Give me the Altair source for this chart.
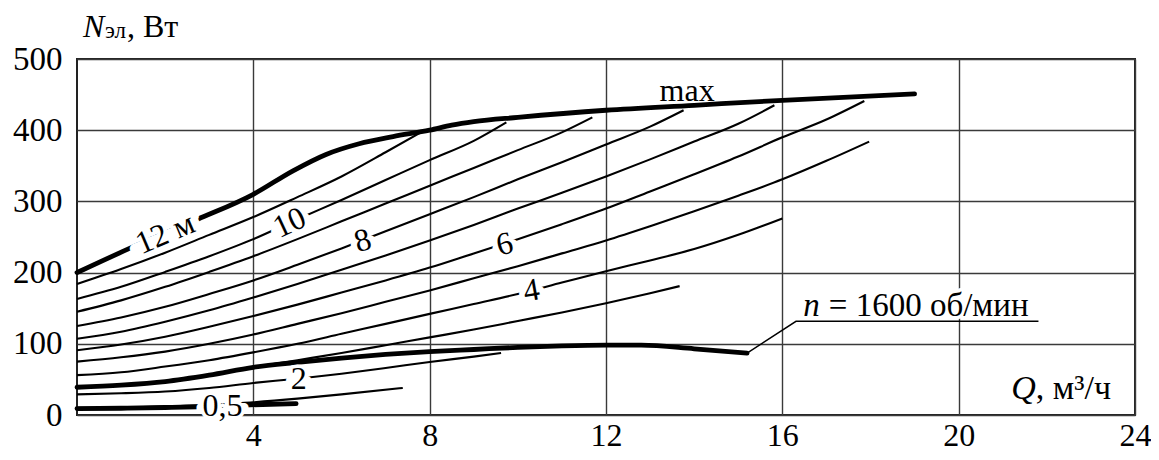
import altair as alt
import pandas as pd

FONT = "Times New Roman, Liberation Serif, Times, serif"

# ---------------- curves N(Q): Q in m3/h, N in W ----------------
# thick envelope: 12 m head curve continuing into the "max" line
q_max = [0, 1.23, 2.74, 4, 4.9, 5.65, 6.4, 7.17, 8, 8.5, 9, 10, 12, 14, 16, 19]
n_max = [200, 235, 275, 310, 343, 366, 381, 391, 400, 407, 412, 418, 428, 435, 442, 451]

# thick line n = 1600 rpm
q_n1600 = [0, 1, 2, 3, 4, 5, 6, 7, 8, 9, 10, 11, 12, 12.8, 14, 15.2]
n_n1600 = [39, 42, 47, 56, 67, 74, 80, 85, 89, 92, 95, 97, 98, 98, 93, 87]

# thick 0.5 m curve
q_h05 = [0, 1, 2, 2.74, 3.8, 4.97]
n_h05 = [9, 9.5, 10.5, 11.6, 14, 16]

# thin head curves
q_h11 = [0, 1, 2, 3, 4, 5, 6, 7, 7.8]
n_h11 = [184, 205, 228, 253, 278, 306, 335, 369, 397]

q_h10 = [0, 1, 2, 3, 4, 5, 6, 7, 8, 9, 9.74]
n_h10 = [163, 180, 201, 223, 247, 275, 302, 330, 358, 385, 411]

q_h9 = [0, 1, 2, 3, 4, 5, 6, 7, 8, 9, 10, 11, 11.69]
n_h9 = [145, 161, 180, 201, 223, 247, 272, 297, 322, 347, 372, 397, 418]

q_h8 = [0, 1, 2, 3, 4, 5, 6, 7, 8, 9, 10, 11, 12, 13, 13.76]
n_h8 = [125, 137, 152, 170, 189, 211, 234, 258, 282, 306, 331, 355, 380, 405, 428]

q_h7 = [0, 1, 2, 3, 4, 5, 6, 7, 8, 9, 10, 11, 12, 13, 14, 15, 15.82]
n_h7 = [107, 117, 131, 147, 165, 184, 204, 224, 245, 267, 290, 312, 335, 359, 384, 409, 435]

q_h6 = [0, 1, 2, 3, 4, 5, 6, 7, 8, 9, 10, 11, 12, 13, 14, 15, 16, 17, 17.86]
n_h6 = [91, 99, 110, 124, 139, 155, 172, 189, 207, 227, 247, 268, 290, 314, 338, 363, 390, 415, 441]

q_h5 = [0, 1, 2, 3, 4, 5, 6, 7, 8, 9, 10, 11, 12, 13, 14, 15, 16, 17, 17.97]
n_h5 = [75, 81, 89, 100, 113, 128, 143, 159, 175, 192, 209, 227, 245, 265, 286, 308, 331, 357, 384]

q_h4 = [0, 1, 2, 3, 4, 5, 6, 7, 8, 9, 10, 11, 12, 13, 14, 15, 16]
n_h4 = [56, 60, 68, 77, 88, 100, 114, 128, 142, 156, 170, 186, 202, 217, 233, 253, 276]

q_h3 = [0, 1, 2, 3, 4, 5, 6, 7, 8, 9, 10, 11, 12, 13, 13.67]
n_h3 = [39, 42, 47, 56, 67, 77, 87, 98, 109, 120, 132, 144, 157, 171, 181]

q_h2 = [0, 1, 2, 3, 4, 5, 6, 7, 8, 9, 9.62]
n_h2 = [29, 30.5, 33, 38, 45, 51, 58, 66, 74.5, 82, 87]

q_h1 = [0, 1, 2, 3, 3.8, 5, 6, 7.39]
n_h1 = [10, 10.5, 12, 14, 17, 23, 29, 38]

# leader line to the "n = 1600" caption
q_leader = [15.2, 16.31, 21.81]
n_leader = [87, 131.6, 131.6]

# labels on the curves
lab_text = ["12 м", "10", "8", "6", "4", "2", "0,5"]
lab_q = [2.0, 4.82, 6.48, 9.7, 10.31, 5.03, 3.3]
lab_n = [255, 270, 245, 240, 175, 50, 13]
lab_angle = [337, 335, 344, 346, 350, 0, 0]

x_ticks = [4, 8, 12, 16, 20, 24]
y_ticks = [0, 100, 200, 300, 400, 500]


def frame(name, qs, ns):
    return pd.DataFrame({"curve": name, "Q": qs, "N": ns})


def gap_strip(s):
    # same advance widths as the label (digits and en dash are 0.5 em, comma and
    # middle dot 0.25 em); white strip that opens the curve under the whole label
    out = []
    for c in s:
        if c.isdigit() or c == " ":
            out.append("\u2013")
        elif c == ",":
            out.append("\u00b7")
        else:
            out.append(c)
    return "".join(out)


thin_df = pd.concat([
    frame("11", q_h11, n_h11), frame("10", q_h10, n_h10), frame("9", q_h9, n_h9),
    frame("8", q_h8, n_h8), frame("7", q_h7, n_h7), frame("6", q_h6, n_h6),
    frame("5", q_h5, n_h5), frame("4", q_h4, n_h4), frame("3", q_h3, n_h3),
    frame("2", q_h2, n_h2), frame("1", q_h1, n_h1),
], ignore_index=True)

thick_df = pd.concat([
    frame("max", q_max, n_max), frame("n1600", q_n1600, n_n1600), frame("0.5", q_h05, n_h05),
], ignore_index=True)

leader_df = frame("leader", q_leader, n_leader)
labels_df = pd.DataFrame({"text": lab_text, "Q": lab_q, "N": lab_n, "angle": lab_angle})
labels_df["gap"] = labels_df["text"].map(gap_strip)

xscale = alt.Scale(domain=[0, 24], nice=False, zero=False)
yscale = alt.Scale(domain=[0, 500], nice=False, zero=False)

x_axis = alt.Axis(values=x_ticks, title="", grid=True, domain=False, ticks=False,
                  labelFont=FONT, labelFontSize=32, labelColor="black",
                  labelBaseline="alphabetic", labelPadding=30,
                  labelFlush=False, labelOverlap=False,
                  gridColor="#3a3a3a", gridWidth=1.4, gridOpacity=1)
y_axis = alt.Axis(values=y_ticks, title="", grid=True, domain=False, ticks=False,
                  labelFont=FONT, labelFontSize=33, labelColor="black",
                  labelPadding=15, labelFlush=False, labelOverlap=False,
                  gridColor="#3a3a3a", gridWidth=1.4, gridOpacity=1)

X = alt.X("Q:Q", scale=xscale, axis=x_axis)
Y = alt.Y("N:Q", scale=yscale, axis=y_axis)
Xs = alt.X("Q:Q", scale=xscale)
Ys = alt.Y("N:Q", scale=yscale)

thin = alt.Chart(thin_df).mark_line(color="black", strokeWidth=2.1, interpolate="monotone").encode(
    x=X, y=Y, detail="curve:N")
thick = alt.Chart(thick_df).mark_line(color="black", strokeWidth=4.8, interpolate="monotone",
                                      strokeCap="round").encode(x=Xs, y=Ys, detail="curve:N")
leader = alt.Chart(leader_df).mark_line(color="black", strokeWidth=1.4).encode(x=Xs, y=Ys)

gaps = alt.Chart(labels_df).mark_text(font=FONT, fontSize=32, color="white", stroke="white",
                                      strokeWidth=9, strokeJoin="round", baseline="middle",
                                      align="center").encode(
    x=Xs, y=Ys, text="gap:N", angle=alt.Angle("angle:Q", scale=None))
halo = alt.Chart(labels_df).mark_text(font=FONT, fontSize=32, color="white", stroke="white",
                                      strokeWidth=7, strokeJoin="round", baseline="middle",
                                      align="center").encode(
    x=Xs, y=Ys, text="text:N", angle=alt.Angle("angle:Q", scale=None))
labels = alt.Chart(labels_df).mark_text(font=FONT, fontSize=32, color="black", baseline="middle",
                                        align="center").encode(
    x=Xs, y=Ys, text="text:N", angle=alt.Angle("angle:Q", scale=None))

one = pd.DataFrame({"Q": [0.0], "N": [0.0]})

max_lbl = alt.Chart(one).mark_text(font=FONT, fontSize=32, color="black", baseline="alphabetic",
                                   align="center").encode(
    x=alt.datum(13.84), y=alt.datum(441.6), text=alt.value("max"))

n_sym_halo = alt.Chart(one).mark_text(font=FONT, fontSize=33, fontStyle="italic", color="white",
                                      stroke="white", strokeWidth=7, strokeJoin="round",
                                      baseline="alphabetic", align="right").encode(
    x=alt.datum(16.85), y=alt.datum(138.4), text=alt.value("n"))
n_sym = alt.Chart(one).mark_text(font=FONT, fontSize=33, fontStyle="italic", color="black",
                                 baseline="alphabetic", align="right").encode(
    x=alt.datum(16.85), y=alt.datum(138.4), text=alt.value("n"))
n_rest_halo = alt.Chart(one).mark_text(font=FONT, fontSize=33, color="white", stroke="white",
                                       strokeWidth=7, strokeJoin="round", baseline="alphabetic",
                                       align="left", dx=9).encode(
    x=alt.datum(16.85), y=alt.datum(138.4), text=alt.value("= 1600 об/мин"))
n_rest = alt.Chart(one).mark_text(font=FONT, fontSize=33, color="black", baseline="alphabetic",
                                  align="left", dx=9).encode(
    x=alt.datum(16.85), y=alt.datum(138.4), text=alt.value("= 1600 об/мин"))

q_sym = alt.Chart(one).mark_text(font=FONT, fontSize=34, fontStyle="italic", color="black",
                                 baseline="alphabetic", align="right").encode(
    x=alt.datum(21.75), y=alt.datum(22.8), text=alt.value("Q"))
q_rest = alt.Chart(one).mark_text(font=FONT, fontSize=34, color="black", baseline="alphabetic",
                                  align="left").encode(
    x=alt.datum(21.75), y=alt.datum(22.8), text=alt.value(", м³/ч"))

t_n = alt.Chart(one).mark_text(font=FONT, fontSize=32, fontStyle="italic", color="black",
                               baseline="alphabetic", align="left").encode(
    x=alt.value(6), y=alt.value(-22), text=alt.value("N"))
t_sub = alt.Chart(one).mark_text(font=FONT, fontSize=23, color="black",
                                 baseline="alphabetic", align="left").encode(
    x=alt.value(28), y=alt.value(-21), text=alt.value("эл"))
t_unit = alt.Chart(one).mark_text(font=FONT, fontSize=32, color="black",
                                  baseline="alphabetic", align="left").encode(
    x=alt.value(50), y=alt.value(-22), text=alt.value(", Вт"))

chart = alt.layer(
    thin, thick, leader, gaps, halo, labels, max_lbl,
    n_sym_halo, n_rest_halo, n_sym, n_rest, q_sym, q_rest, t_n, t_sub, t_unit
).properties(
    width=1058, height=356,
    autosize=alt.AutoSizeParams(type="none"),
    padding={"left": 69, "top": 51, "right": 16, "bottom": 37},
    background="white",
).configure_view(stroke="#222222", strokeWidth=2)

chart.save("out.html", embed_options={"renderer": "svg", "actions": False})
